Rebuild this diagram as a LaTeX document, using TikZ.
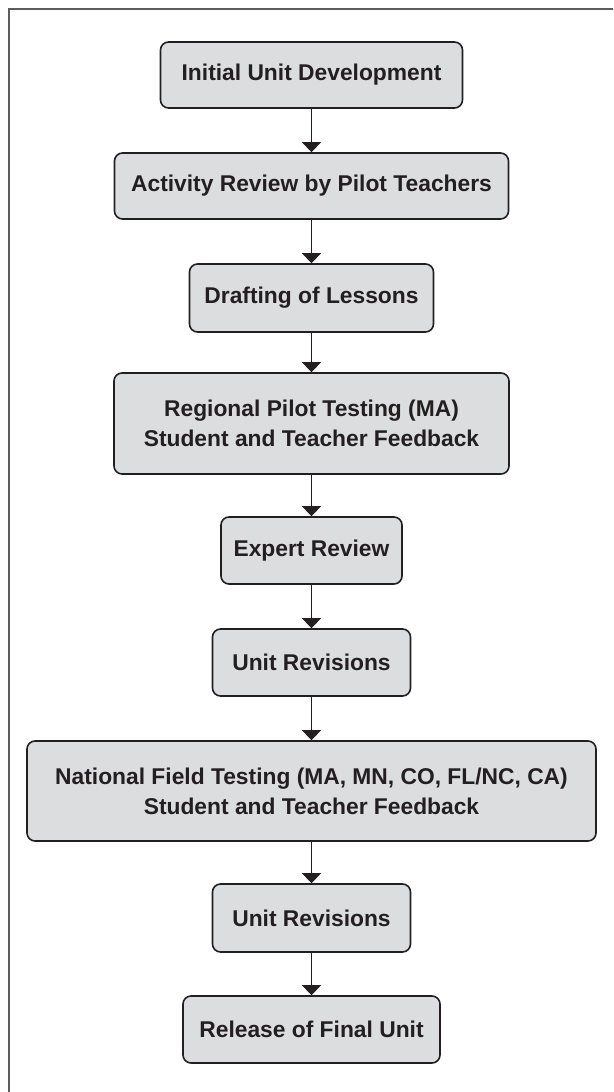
\documentclass[tikz,border=0pt]{standalone}
\usepackage{fontspec}
\setmainfont{Liberation Sans}
\usetikzlibrary{arrows.meta}
\definecolor{ink}{HTML}{231F20}
\definecolor{boxfill}{HTML}{DCDDDF}
\definecolor{framegray}{HTML}{5C5C5C}
\begin{document}
\begin{tikzpicture}[x=1pt,y=-1pt,
  stage/.style={draw=ink, fill=boxfill, line width=1.6pt, rounded corners=8pt,
    inner sep=0pt, align=center, text=ink,
    font=\fontsize{22.8}{30}\selectfont\bfseries},
  flow/.style={draw=ink, line width=1.3pt, -{Triangle[width=19pt,length=10pt]}},
  frameline/.style={draw=framegray, line width=2pt}]
  \useasboundingbox (0,0) rectangle (613,1092);
  % open frame along the top and left edges
  \coordinate (ftr) at (613,9);
  \coordinate (ftl) at (9,9);
  \coordinate (fbl) at (9,1092);
  \draw[frameline] (ftr) -- (ftl) -- (fbl);
  % process stages
  \node[stage, minimum width=302pt, minimum height=66pt] (init) at (311.5,75) {Initial Unit Development};
  \node[stage, minimum width=394pt, minimum height=66pt] (act) at (311.5,186) {Activity Review by Pilot Teachers};
  \node[stage, minimum width=244pt, minimum height=68pt] (draft) at (311.5,298) {Drafting of Lessons};
  \node[stage, minimum width=395pt, minimum height=101pt] (reg) at (311.5,423.5) {Regional Pilot Testing (MA)\\Student and Teacher Feedback};
  \node[stage, minimum width=181pt, minimum height=67pt] (exp) at (311.5,550.5) {Expert Review};
  \node[stage, minimum width=198pt, minimum height=67pt] (rev1) at (311.5,662.5) {Unit Revisions};
  \node[stage, minimum width=569pt, minimum height=100pt] (nat) at (311.5,791) {National Field Testing (MA, MN, CO, FL/NC, CA)\\Student and Teacher Feedback};
  \node[stage, minimum width=198pt, minimum height=68pt] (rev2) at (311.5,918) {Unit Revisions};
  \node[stage, minimum width=257pt, minimum height=67pt] (rel) at (311.5,1029.5) {Release of Final Unit};
  % connectors
  \draw[flow] (init.south) -- (act.north);
  \draw[flow] (act.south) -- (draft.north);
  \draw[flow] (draft.south) -- (reg.north);
  \draw[flow] (reg.south) -- (exp.north);
  \draw[flow] (exp.south) -- (rev1.north);
  \draw[flow] (rev1.south) -- (nat.north);
  \draw[flow] (nat.south) -- (rev2.north);
  \draw[flow] (rev2.south) -- (rel.north);
\end{tikzpicture}
\end{document}
